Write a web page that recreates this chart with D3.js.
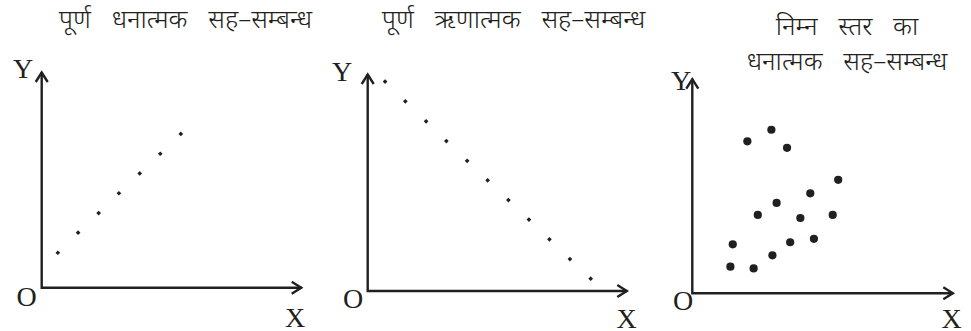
<!DOCTYPE html>
<html>
<head>
<meta charset="utf-8">
<script src="https://cdn.jsdelivr.net/npm/d3@7"></script>
<style>
  html, body { margin: 0; padding: 0; background: #fff; }
  svg { display: block; }
  .title { font-family: "Noto Sans", "DejaVu Sans", sans-serif; font-size: 26px; font-weight: 300; fill: #231f20; }
  .axlab { font-family: "Liberation Serif", "Times New Roman", serif; font-size: 28px; fill: #231f20; }
</style>
</head>
<body>
<svg id="chart" width="971" height="331"></svg>
<script>
// Perfect positive correlation
const posX = [0.62, 1.40, 2.19, 2.97, 3.77, 4.56, 5.35];
const posY = [1.62, 2.55, 3.46, 4.38, 5.30, 6.21, 7.13];

// Perfect negative correlation
const negX = [0.67, 1.45, 2.25, 3.03, 3.83, 4.62, 5.42, 6.21, 7.00, 7.79, 8.59];
const negY = [9.65, 8.74, 7.82, 6.91, 6.00, 5.10, 4.19, 3.29, 2.38, 1.47, 0.57];

// Low degree positive correlation
const lowX = [2.11, 3.03, 3.63, 5.59, 4.52, 3.23, 2.51, 4.14, 5.38, 1.55, 3.75, 4.66, 3.07, 1.46, 2.35];
const lowY = [7.08, 7.62, 6.78, 5.29, 4.66, 4.21, 3.65, 3.51, 3.65, 2.28, 2.38, 2.54, 1.77, 1.24, 1.16];

const titles = [
  ["पूर्ण धनात्मक सह–सम्बन्ध"],
  ["पूर्ण ऋणात्मक सह–सम्बन्ध"],
  ["निम्न स्तर का", "धनात्मक सह–सम्बन्ध"]
];

const axisLabels = { x: "X", y: "Y", origin: "O" };

const svg = d3.select("#chart");
const ink = "#231f20";

const panels = [
  { xs: posX, ys: posY, title: titles[0], kind: "diamond",
    box: { x0: 41.7, x1: 301.7, y0: 287.7, y1: 72 },
    titleAt: { x: 185.5, y: 28, dy: 0 },
    yLab: { x: 23, y: 77.5 }, oLab: { x: 26.5, y: 305.5 }, xLab: { x: 295, y: 327 } },
  { xs: negX, ys: negY, title: titles[1], kind: "diamond",
    box: { x0: 367.7, x1: 627.3, y0: 291, y1: 74 },
    titleAt: { x: 513.5, y: 28, dy: 0 },
    yLab: { x: 342, y: 81 }, oLab: { x: 353, y: 308 }, xLab: { x: 626.5, y: 328 } },
  { xs: lowX, ys: lowY, title: titles[2], kind: "dot",
    box: { x0: 692.3, x1: 953.3, y0: 293.3, y1: 78.7 },
    titleAt: { x: 847, y: 35, dy: 35 },
    yLab: { x: 681, y: 90 }, oLab: { x: 683, y: 310 }, xLab: { x: 951.5, y: 328 } }
];

panels.forEach(p => {
  const g = svg.append("g");
  const x = d3.scaleLinear().domain([0, 10]).range([p.box.x0, p.box.x1]);
  const y = d3.scaleLinear().domain([0, 10]).range([p.box.y0, p.box.y1]);

  // axes with open arrowheads
  const ax = g.append("g").attr("fill", "none").attr("stroke", ink)
    .attr("stroke-width", 2.4).attr("stroke-linejoin", "miter").attr("stroke-linecap", "butt");
  ax.append("path").attr("d", d3.line()([
    [x(0), y(10)], [x(0), y(0)], [x(10), y(0)]
  ]));
  const xt = x(10), yt = y(10);
  ax.append("path").attr("d", d3.line()([[x(0) - 6, yt + 10], [x(0), yt + 0.5], [x(0) + 6, yt + 10]]));
  ax.append("path").attr("d", d3.line()([[xt - 10, y(0) - 6], [xt - 0.5, y(0)], [xt - 10, y(0) + 6]]));

  // points
  const pts = p.xs.map((v, i) => [v, p.ys[i]]);
  if (p.kind === "dot") {
    g.selectAll("circle").data(pts).join("circle")
      .attr("cx", d => x(d[0])).attr("cy", d => y(d[1]))
      .attr("r", 4.1).attr("fill", ink);
  } else {
    g.selectAll("path.pt").data(pts).join("path").attr("class", "pt")
      .attr("d", d3.symbol(d3.symbolSquare, 11))
      .attr("transform", d => `translate(${x(d[0])},${y(d[1])}) rotate(45)`)
      .attr("fill", ink);
  }

  // titles
  p.title.forEach((t, i) => {
    g.append("text").attr("class", "title")
      .attr("x", p.titleAt.x).attr("y", p.titleAt.y + i * p.titleAt.dy)
      .attr("text-anchor", "middle").attr("word-spacing", "14px").text(t);
  });

  // axis letters
  g.append("text").attr("class", "axlab").attr("text-anchor", "middle")
    .attr("x", p.yLab.x).attr("y", p.yLab.y).text(axisLabels.y);
  g.append("text").attr("class", "axlab").attr("text-anchor", "middle")
    .attr("x", p.oLab.x).attr("y", p.oLab.y).text(axisLabels.origin);
  g.append("text").attr("class", "axlab").attr("text-anchor", "middle")
    .attr("x", p.xLab.x).attr("y", p.xLab.y).text(axisLabels.x);
});
</script>
</body>
</html>
